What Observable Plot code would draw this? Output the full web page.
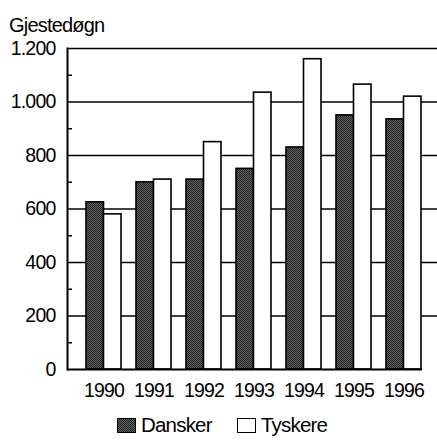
<!DOCTYPE html>
<html>
<head>
<meta charset="utf-8">
<script src="https://cdn.jsdelivr.net/npm/d3@7"></script>
<script src="https://cdn.jsdelivr.net/npm/@observablehq/plot@0.6"></script>
<style>
  html, body { margin: 0; padding: 0; background: #fff; }
  #wrap { position: relative; width: 437px; height: 448px; font-family: "Liberation Sans", Arial, sans-serif; color: #000; }
  #title { position: absolute; left: 9px; top: 15px; font-size: 20px; letter-spacing: -0.8px; line-height: 1; }
  #legend { position: absolute; left: 0; top: 415px; width: 437px; font-size: 20.5px; letter-spacing: -0.8px; line-height: 1; }
  .item { position: absolute; top: 0; display: flex; align-items: center; }
  .sw { width: 17px; height: 13px; border: 1.5px solid #000; margin-right: 5px; }
  .dith { background-color: #444; background-image: repeating-conic-gradient(#262626 0% 25%, #606060 0% 50%); background-size: 2px 2px; }
</style>
</head>
<body>
<div id="wrap">
  <div id="title">Gjestedøgn</div>
  <div id="chart"></div>
  <div id="legend">
    <div class="item" style="left:117px"><div class="sw dith"></div><span>Dansker</span></div>
    <div class="item" style="left:237px"><div class="sw" style="background:#fff"></div><span>Tyskere</span></div>
  </div>
</div>
<script>
const years = ["1990", "1991", "1992", "1993", "1994", "1995", "1996"];
const dansker = [625, 700, 710, 750, 830, 950, 935];
const tyskere = [580, 710, 850, 1035, 1160, 1065, 1020];
const yTicks = [0, 200, 400, 600, 800, 1000, 1200];
const yMinor = [100, 300, 500, 700, 900, 1100];
const series = ["Dansker", "Tyskere"];

const data = years.map((y, i) => ({year: y, Dansker: dansker[i], Tyskere: tyskere[i]}));
const fmt = d => d3.format(",")(d).replace(/,/g, ".");

const W = 437, H = 448, mL = 67, mR = 0, mT = 48, mB = 79;
const half = 17.5;
const tickLen = 5;

const chart = Plot.plot({
  width: W,
  height: H,
  marginLeft: mL,
  marginRight: mR,
  marginTop: mT,
  marginBottom: mB,
  style: {fontFamily: "Liberation Sans, Arial, sans-serif", fontSize: "19.5px", letterSpacing: "-0.8px", color: "#000", background: "transparent"},
  x: {domain: years, range: [83, 422.5], paddingInner: 0.31, paddingOuter: 0, label: null},
  y: {domain: [0, 1200], label: null},
  marks: [
    Plot.ruleY(yTicks.filter(d => d > 0), {stroke: "#000", strokeWidth: 1.6}),
    Plot.barY(data, {x: "year", y: "Dansker", fill: "url(#dither)", stroke: "#000", strokeWidth: 1.6, insetRight: half}),
    Plot.barY(data, {x: "year", y: "Tyskere", fill: "#fff", stroke: "#000", strokeWidth: 1.6, insetLeft: half}),
    Plot.ruleY([0], {stroke: "#000", strokeWidth: 2, insetRight: 15}),
    Plot.ruleY(yMinor, {y: d => d, stroke: "#000", strokeWidth: 1.5, insetRight: W - mL - mR - tickLen}),
    Plot.frame({anchor: "left", stroke: "#000", strokeWidth: 2}),
    Plot.axisY({ticks: yTicks, tickFormat: fmt, tickSize: 0, tickPadding: 12, label: null}),
    Plot.axisX({tickSize: 0, tickPadding: 14, label: null})
  ]
});
const ns = "http://www.w3.org/2000/svg";
const defs = document.createElementNS(ns, "defs");
const pat = document.createElementNS(ns, "pattern");
pat.setAttribute("id", "dither");
pat.setAttribute("width", "2");
pat.setAttribute("height", "2");
pat.setAttribute("patternUnits", "userSpaceOnUse");
[[0, 0, "#262626"], [1, 1, "#262626"], [1, 0, "#606060"], [0, 1, "#606060"]].forEach(([x, y, c]) => {
  const r = document.createElementNS(ns, "rect");
  r.setAttribute("x", x); r.setAttribute("y", y);
  r.setAttribute("width", 1); r.setAttribute("height", 1);
  r.setAttribute("fill", c);
  pat.appendChild(r);
});
defs.appendChild(pat);
chart.insertBefore(defs, chart.firstChild);
document.getElementById("chart").appendChild(chart);
</script>
</body>
</html>
